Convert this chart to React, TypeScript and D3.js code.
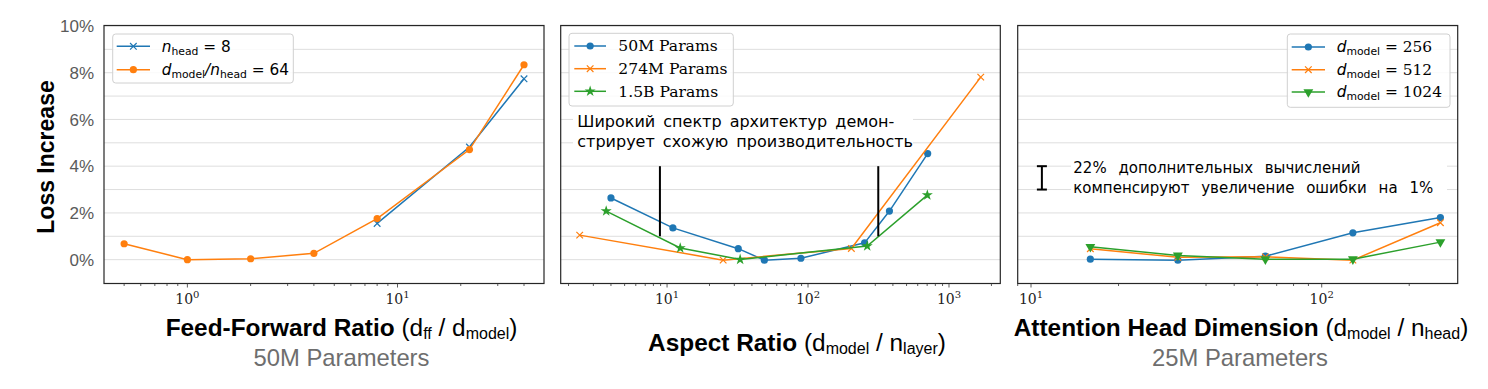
import React from 'react';
import * as d3 from 'd3';

// ---------- DATA ----------
// Panel 1: Feed-forward ratio (50M params)
const ffRatioNHead = [8, 22, 40];
const lossNHead = [1.55, 4.82, 7.74];
const ffRatioHeadDim = [0.5, 1, 2, 4, 8, 22, 40];
const lossHeadDim = [0.68, 0.0, 0.04, 0.27, 1.76, 4.71, 8.34];

// Panel 2: Aspect ratio
const aspect50M = [4, 11, 32, 49, 89, 252, 378, 706];
const loss50M = [2.64, 1.36, 0.47, -0.02, 0.06, 0.72, 2.08, 4.54];
const aspect274M = [2.4, 25, 203, 1680];
const loss274M = [1.05, -0.02, 0.48, 7.81];
const aspect1_5B = [3.7, 12.4, 33, 263, 702];
const loss1_5B = [2.08, 0.5, 0.01, 0.58, 2.76];
const rangeMarkX = [8.9, 315];
const rangeMarkY = [1, 4];

// Panel 3: Attention head dimension (25M params)
const headDims = [16, 32, 64, 128, 256];
const lossD256 = [0.02, -0.02, 0.15, 1.15, 1.8];
const lossD512 = [0.47, 0.1, 0.12, -0.02, 1.58];
const lossD1024 = [0.55, 0.18, 0.02, 0.02, 0.75];
const errBarY = [3, 4];
const errBarX = 10.9;

const yTickValues = [0, 2, 4, 6, 8, 10];
const yGridValues = [0, 1, 2, 3, 4, 5, 6, 7, 8, 9, 10];

const annotation2 = ['Широкий спектр архитектур демон-', 'стрирует схожую производительность'];
const annotation3 = ['22% дополнительных вычислений', 'компенсируют увеличение ошибки на 1%'];

// ---------- STYLE ----------
const BLUE = '#1f77b4';
const ORANGE = '#ff7f0e';
const GREEN = '#2ca02c';
const SANS = 'Liberation Sans, Arial, Helvetica, sans-serif';
const DJ = 'DejaVu Sans, sans-serif';
const DJS = 'DejaVu Serif, serif';

const yScale = d3.scaleLinear().domain([-1.02, 10.02]).range([283.5, 25.5]);

type Series = { x: number[]; y: number[]; color: string; marker: string };

function Marker({ type, x, y, color }: { type: string; x: number; y: number; color: string }) {
  const s = 3.3;
  if (type === 'o') return <circle cx={x} cy={y} r={3.6} fill={color} />;
  if (type === 'x')
    return (
      <path
        d={`M${x - s},${y - s}L${x + s},${y + s}M${x - s},${y + s}L${x + s},${y - s}`}
        stroke={color}
        strokeWidth={1.2}
        fill="none"
      />
    );
  if (type === '*')
    return <path transform={`translate(${x},${y})`} d={d3.symbol(d3.symbolStar, 38)() || ''} fill={color} />;
  if (type === 'v')
    return (
      <path transform={`translate(${x},${y}) rotate(180)`} d={d3.symbol(d3.symbolTriangle, 42)() || ''} fill={color} />
    );
  return null;
}

function logTicks(domain: number[]) {
  const lo = Math.floor(Math.log10(domain[0]));
  const hi = Math.ceil(Math.log10(domain[1]));
  const major: number[] = [];
  const minor: number[] = [];
  for (let e = lo; e <= hi; e++) {
    for (let k = 1; k <= 9; k++) {
      const v = k * Math.pow(10, e);
      if (v < domain[0] || v > domain[1]) continue;
      if (k === 1) major.push(v);
      else minor.push(v);
    }
  }
  return { major, minor };
}

function Panel({
  xDomain,
  xRange,
  series,
}: {
  xDomain: number[];
  xRange: number[];
  series: Series[];
}) {
  const x = d3.scaleLog().domain(xDomain).range(xRange);
  const [y0, y1] = yScale.range();
  const { major, minor } = logTicks(xDomain);
  const line = d3
    .line<[number, number]>()
    .x((d) => x(d[0]))
    .y((d) => yScale(d[1]));
  return (
    <g>
      <rect x={xRange[0]} y={y1} width={xRange[1] - xRange[0]} height={y0 - y1} fill="#fff" />
      {yGridValues.map((v) => (
        <line key={v} x1={xRange[0]} x2={xRange[1]} y1={yScale(v)} y2={yScale(v)} stroke="#dedede" strokeWidth={1} />
      ))}
      {series.map((s, i) => (
        <g key={i}>
          <path d={line(s.x.map((xv, j) => [xv, s.y[j]] as [number, number])) || ''} fill="none" stroke={s.color} strokeWidth={1.5} />
          {s.x.map((xv, j) => (
            <Marker key={j} type={s.marker} x={x(xv)} y={yScale(s.y[j])} color={s.color} />
          ))}
        </g>
      ))}
      <rect x={xRange[0]} y={y1} width={xRange[1] - xRange[0]} height={y0 - y1} fill="none" stroke="#262626" strokeWidth={1.2} />
      {minor.map((v) => (
        <line key={'m' + v} x1={x(v)} x2={x(v)} y1={y0} y2={y0 + 2.5} stroke="#333" strokeWidth={0.8} />
      ))}
      {major.map((v) => (
        <g key={'M' + v}>
          <line x1={x(v)} x2={x(v)} y1={y0} y2={y0 + 4} stroke="#333" strokeWidth={0.8} />
          <text x={x(v)} y={304} textAnchor="middle" fontFamily={DJS} fontSize={14} fill="#222">
            10
            <tspan fontSize={10} dy={-6}>
              {Math.round(Math.log10(v))}
            </tspan>
          </text>
        </g>
      ))}
    </g>
  );
}

function LegendBox({ x0, x1, y0, y1 }: { x0: number; x1: number; y0: number; y1: number }) {
  return <rect x={x0} y={y0} width={x1 - x0} height={y1 - y0} rx={3} fill="#fff" fillOpacity={0.85} stroke="#d0d0d0" strokeWidth={1} />;
}

function LegendKey({ x0, x1, y, color, marker }: { x0: number; x1: number; y: number; color: string; marker: string }) {
  return (
    <g>
      <line x1={x0} x2={x1} y1={y} y2={y} stroke={color} strokeWidth={1.5} />
      <Marker type={marker} x={(x0 + x1) / 2} y={y} color={color} />
    </g>
  );
}

export default function App() {
  const p1Range = [104, 544];
  const p2Range = [560.7, 1000.3];
  const p3Range = [1017.7, 1457.7];
  const x2 = d3.scaleLog().domain([1.76, 2312]).range(p2Range);
  const x3 = d3.scaleLog().domain([9.0, 293.6]).range(p3Range);
  const LF = 24.4;
  const LS = 16;

  return (
    <svg width={1488} height={389} style={{ position: 'absolute', left: 0, top: 0, background: '#fff' }}>
      <rect width={1488} height={389} fill="#fff" />
      {/* Panel 1 */}
      <Panel
        xDomain={[0.401, 49.8]}
        xRange={p1Range}
        series={[
          { x: ffRatioNHead, y: lossNHead, color: BLUE, marker: 'x' },
          { x: ffRatioHeadDim, y: lossHeadDim, color: ORANGE, marker: 'o' },
        ]}
      />
      {yTickValues.map((v) => (
        <text key={v} x={94} y={yScale(v)} dy="0.36em" textAnchor="end" fontFamily={SANS} fontSize={17} fill="#5a5a5a">
          {v}%
        </text>
      ))}
      <text
        transform={`translate(46,157) rotate(-90)`}
        textAnchor="middle"
        dy="0.36em"
        fontFamily={SANS}
        fontWeight="bold"
        fontSize={23}
        fill="#000"
      >
        Loss Increase
      </text>
      <LegendBox x0={112.7} x1={293.3} y0={34} y1={83} />
      <LegendKey x0={116.7} x1={150} y={46.3} color={BLUE} marker="x" />
      <LegendKey x0={116.7} x1={150} y={69.7} color={ORANGE} marker="o" />
      <text x={161.7} y={51.5} fontFamily={DJ} fontSize={15.3} fill="#000">
        <tspan fontStyle="italic">n</tspan>
        <tspan fontSize={10.8} dy={3}>head</tspan>
        <tspan dy={-3}>{' = 8'}</tspan>
      </text>
      <text x={161.7} y={74.9} fontFamily={DJ} fontSize={15.3} fill="#000">
        <tspan fontStyle="italic">d</tspan>
        <tspan fontSize={10.8} dy={3}>model</tspan>
        <tspan dy={-3} fontStyle="italic">/n</tspan>
        <tspan fontSize={10.8} dy={3}>head</tspan>
        <tspan dy={-3}>{' = 64'}</tspan>
      </text>

      {/* Panel 2 */}
      <Panel
        xDomain={[1.76, 2312]}
        xRange={p2Range}
        series={[
          { x: aspect50M, y: loss50M, color: BLUE, marker: 'o' },
          { x: aspect274M, y: loss274M, color: ORANGE, marker: 'x' },
          { x: aspect1_5B, y: loss1_5B, color: GREEN, marker: '*' },
        ]}
      />
      {rangeMarkX.map((v) => (
        <line key={v} x1={x2(v)} x2={x2(v)} y1={yScale(rangeMarkY[0])} y2={yScale(rangeMarkY[1])} stroke="#000" strokeWidth={2} />
      ))}
      <rect x={573} y={110} width={340} height={42} fill="#fff" />
      {annotation2.map((t, i) => (
        <text key={i} x={577.3} y={127.3 + i * 19.6} fontFamily={DJ} fontSize={16} wordSpacing={3} fill="#000">
          {t}
        </text>
      ))}
      <LegendBox x0={569} x1={733.3} y0={33.3} y1={106} />
      {[
        { c: BLUE, m: 'o', t: '50M Params', y: 46 },
        { c: ORANGE, m: 'x', t: '274M Params', y: 68.7 },
        { c: GREEN, m: '*', t: '1.5B Params', y: 91.3 },
      ].map((e) => (
        <g key={e.t}>
          <LegendKey x0={574.3} x1={606} y={e.y} color={e.c} marker={e.m} />
          <text x={618.3} y={e.y + 5.4} fontFamily={DJS} fontSize={15.6} fill="#000">
            {e.t}
          </text>
        </g>
      ))}

      {/* Panel 3 */}
      <Panel
        xDomain={[9.0, 293.6]}
        xRange={p3Range}
        series={[
          { x: headDims, y: lossD256, color: BLUE, marker: 'o' },
          { x: headDims, y: lossD512, color: ORANGE, marker: 'x' },
          { x: headDims, y: lossD1024, color: GREEN, marker: 'v' },
        ]}
      />
      <rect x={1071} y={157} width={376} height={42} fill="#fff" />
      <g stroke="#000" strokeWidth={2}>
        <line x1={x3(errBarX)} x2={x3(errBarX)} y1={yScale(errBarY[0])} y2={yScale(errBarY[1])} />
        <line x1={x3(errBarX) - 5} x2={x3(errBarX) + 5} y1={yScale(errBarY[0])} y2={yScale(errBarY[0])} />
        <line x1={x3(errBarX) - 5} x2={x3(errBarX) + 5} y1={yScale(errBarY[1])} y2={yScale(errBarY[1])} />
      </g>
      {annotation3.map((t, i) => (
        <text key={i} x={1073.3} y={172.7 + i * 20.6} fontFamily={DJ} fontSize={15} wordSpacing={7} fill="#000">
          {t}
        </text>
      ))}
      <LegendBox x0={1287.3} x1={1450} y0={34} y1={107.3} />
      {[
        { c: BLUE, m: 'o', t: ' = 256', y: 47 },
        { c: ORANGE, m: 'x', t: ' = 512', y: 69.7 },
        { c: GREEN, m: 'v', t: ' = 1024', y: 92 },
      ].map((e) => (
        <g key={e.t}>
          <LegendKey x0={1291.7} x1={1325} y={e.y} color={e.c} marker={e.m} />
          <text x={1336.7} y={e.y + 5.4} fontFamily={DJ} fontSize={15.4} fill="#000">
            <tspan fontStyle="italic">d</tspan>
            <tspan fontSize={10.8} dy={3}>model</tspan>
            <tspan dy={-3} fontFamily={DJS}>{e.t}</tspan>
          </text>
        </g>
      ))}

      {/* X labels */}
      <text x={341.5} y={335.5} textAnchor="middle" fontFamily={SANS} fontSize={LF} fill="#000">
        <tspan fontWeight="bold">Feed-Forward Ratio</tspan>
        <tspan>{' (d'}</tspan>
        <tspan fontSize={LS} dy={3}>ff</tspan>
        <tspan dy={-3}>{' / d'}</tspan>
        <tspan fontSize={LS} dy={3}>model</tspan>
        <tspan dy={-3}>)</tspan>
      </text>
      <text x={341.5} y={366} textAnchor="middle" fontFamily={SANS} fontSize={23.8} fill="#6e6e6e">
        50M Parameters
      </text>
      <text x={797} y={350.5} textAnchor="middle" fontFamily={SANS} fontSize={LF} fill="#000">
        <tspan fontWeight="bold">Aspect Ratio</tspan>
        <tspan>{' (d'}</tspan>
        <tspan fontSize={LS} dy={3}>model</tspan>
        <tspan dy={-3}>{' / n'}</tspan>
        <tspan fontSize={LS} dy={3}>layer</tspan>
        <tspan dy={-3}>)</tspan>
      </text>
      <text x={1241} y={335.5} textAnchor="middle" fontFamily={SANS} fontSize={LF} fill="#000">
        <tspan fontWeight="bold">Attention Head Dimension</tspan>
        <tspan>{' (d'}</tspan>
        <tspan fontSize={LS} dy={3}>model</tspan>
        <tspan dy={-3}>{' / n'}</tspan>
        <tspan fontSize={LS} dy={3}>head</tspan>
        <tspan dy={-3}>)</tspan>
      </text>
      <text x={1240} y={366} textAnchor="middle" fontFamily={SANS} fontSize={23.8} fill="#6e6e6e">
        25M Parameters
      </text>
    </svg>
  );
}
